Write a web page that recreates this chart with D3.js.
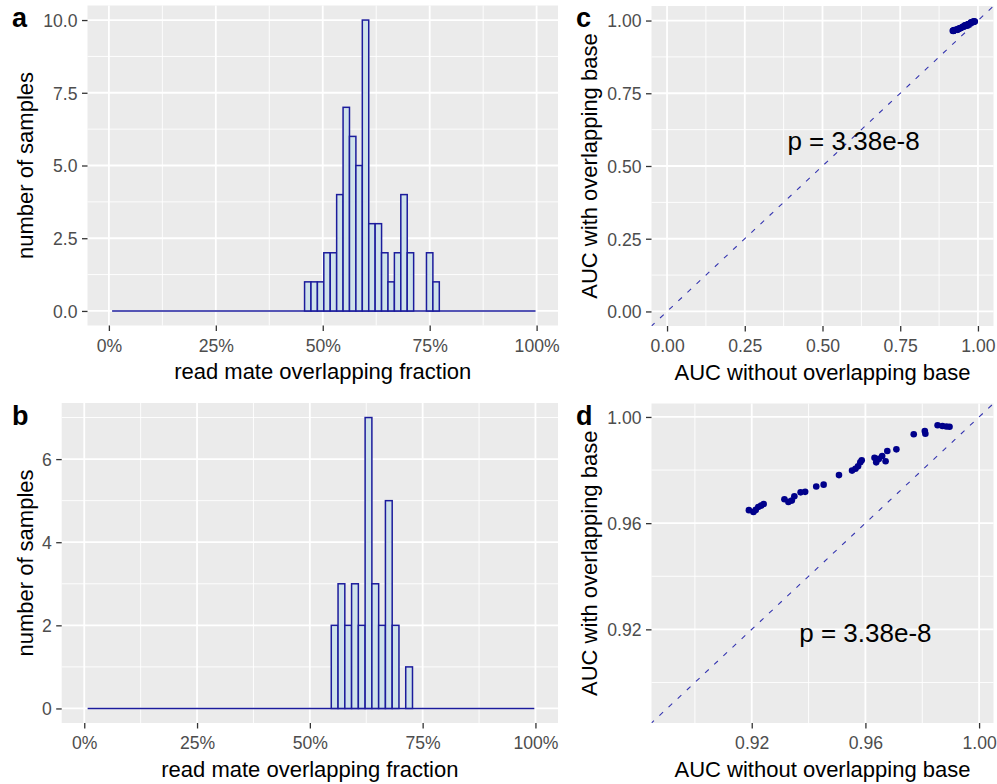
<!DOCTYPE html>
<html>
<head>
<meta charset="utf-8">
<script src="https://cdn.jsdelivr.net/npm/d3@7"></script>
<style>
  html, body { margin: 0; padding: 0; background: #ffffff; }
  text { font-family: "Liberation Sans", Arial, Helvetica, sans-serif; }
</style>
</head>
<body>
<svg id="fig" width="997" height="784"></svg>
<script>
// ---------------- data ----------------
// histogram bins of width 0.015 (edges at 0.0075 + 0.015k), empty bins span histSpan
const binWidth = 0.015;
const histSpan = [0.0075, 0.9975];
const firstEdgeA = 0.4575;
const countsA = [1, 1, 1, 2, 2, 4, 7, 6, 5, 10, 3, 3, 2, 1, 2, 4, 2, 0, 0, 2, 1];
const firstEdgeB = 0.5475;
const countsB = [2, 3, 2, 3, 2, 7, 3, 2, 5, 2, 0, 1];

// per-sample AUC without / with the overlapping base
const aucWithout = [0.9190, 0.9206, 0.9214, 0.9223, 0.9233, 0.9242, 0.9315, 0.9329, 0.9341, 0.9350,
                    0.9372, 0.9388, 0.9427, 0.9453, 0.9507, 0.9553, 0.9565, 0.9574, 0.9582, 0.9587,
                    0.9632, 0.9638, 0.9647, 0.9659, 0.9671, 0.9677, 0.9709, 0.9770, 0.9809, 0.9811,
                    0.9854, 0.9871, 0.9885, 0.9896];
const aucWith    = [0.9649, 0.9642, 0.9650, 0.9661, 0.9666, 0.9672, 0.9690, 0.9680, 0.9685, 0.9701,
                    0.9716, 0.9718, 0.9738, 0.9745, 0.9781, 0.9798, 0.9805, 0.9814, 0.9829, 0.9837,
                    0.9846, 0.9829, 0.9842, 0.9853, 0.9833, 0.9872, 0.9878, 0.9935, 0.9947, 0.9937,
                    0.9969, 0.9966, 0.9964, 0.9963];
const pLabel = "p = 3.38e-8";

// axis limits and ticks
const fracLimits = [0, 1];
const fracTicks = [0, 0.25, 0.5, 0.75, 1];
const fracMinor = [0.125, 0.375, 0.625, 0.875];
const countLimitsA = [0, 10];
const countTicksA = [0, 2.5, 5, 7.5, 10];
const countMinorA = [1.25, 3.75, 6.25, 8.75];
const countLimitsB = [0, 7];
const countTicksB = [0, 2, 4, 6];
const countMinorB = [1, 3, 5, 7];
const aucLimitsC = [0, 1];
const aucTicksC = [0, 0.25, 0.5, 0.75, 1];
const aucMinorC = [0.125, 0.375, 0.625, 0.875];
const aucLimitsD = [0.8902, 0.9996];
const aucTicksD = [0.92, 0.96, 1.00];
const aucMinorD = [0.90, 0.94, 0.98];

// ---------------- styling ----------------
const PANEL_BG = "#EBEBEB";
const TICK_TXT = "#4D4D4D";
const BAR_FILL = "#cfe2ea";
const BAR_LINE = "#1c1c9c";
const POINT = "#00008B";
const DASH = "#3434b0";

const svg = d3.select("#fig");

function expand(lim, f = 0.05) {
  const d = lim[1] - lim[0];
  return [lim[0] - f * d, lim[1] + f * d];
}

// Draws the grey panel, grid, ticks, tick labels and titles; returns scales + group
function panel(o) {
  const x = d3.scaleLinear().domain(expand(o.xlim)).range([o.left, o.right]);
  const y = d3.scaleLinear().domain(expand(o.ylim)).range([o.bottom, o.top]);
  const g = svg.append("g");
  g.append("rect").attr("x", o.left).attr("y", o.top)
    .attr("width", o.right - o.left).attr("height", o.bottom - o.top)
    .attr("fill", PANEL_BG);
  const grid = g.append("g").attr("stroke", "#ffffff").attr("fill", "none");
  o.xminor.forEach(v => grid.append("line").attr("x1", x(v)).attr("x2", x(v))
    .attr("y1", o.top).attr("y2", o.bottom).attr("stroke-width", 0.9));
  o.yminor.forEach(v => grid.append("line").attr("y1", y(v)).attr("y2", y(v))
    .attr("x1", o.left).attr("x2", o.right).attr("stroke-width", 0.9));
  o.xticks.forEach(v => grid.append("line").attr("x1", x(v)).attr("x2", x(v))
    .attr("y1", o.top).attr("y2", o.bottom).attr("stroke-width", 1.8));
  o.yticks.forEach(v => grid.append("line").attr("y1", y(v)).attr("y2", y(v))
    .attr("x1", o.left).attr("x2", o.right).attr("stroke-width", 1.8));

  // axis ticks drawn through d3 axes
  const xAxis = d3.axisBottom(x).tickValues(o.xticks).tickFormat(o.xfmt)
    .tickSizeInner(5.5).tickSizeOuter(0).tickPadding(4.5);
  const yAxis = d3.axisLeft(y).tickValues(o.yticks).tickFormat(o.yfmt)
    .tickSizeInner(5.5).tickSizeOuter(0).tickPadding(4.5);
  const gx = g.append("g").attr("transform", `translate(0,${o.bottom})`).call(xAxis);
  const gy = g.append("g").attr("transform", `translate(${o.left},0)`).call(yAxis);
  [gx, gy].forEach(a => {
    a.select(".domain").remove();
    a.selectAll(".tick line").attr("stroke", "#333333").attr("stroke-width", 1.3);
    a.selectAll(".tick text").attr("fill", TICK_TXT)
      .style("font-size", "17.6px")
      .style("font-family", '"Liberation Sans", Arial, sans-serif');
  });
  gx.selectAll(".tick text").attr("dy", null).attr("y", 26);
  gy.selectAll(".tick text").attr("dy", "0.36em");

  g.append("text").attr("x", (o.left + o.right) / 2).attr("y", o.bottom + 53.5)
    .attr("text-anchor", "middle").attr("fill", "#000").style("font-size", "22px")
    .text(o.xtitle);
  g.append("text")
    .attr("transform", `translate(${o.ytitleX},${(o.top + o.bottom) / 2}) rotate(-90)`)
    .attr("text-anchor", "middle").attr("fill", "#000").style("font-size", "22px")
    .text(o.ytitle);
  g.append("text").attr("x", o.tagX).attr("y", o.tagY)
    .attr("fill", "#000").style("font-size", "27px").style("font-weight", "bold")
    .text(o.tag);

  const clipId = "clip-" + o.tag;
  svg.append("clipPath").attr("id", clipId).append("rect")
    .attr("x", o.left).attr("y", o.top)
    .attr("width", o.right - o.left).attr("height", o.bottom - o.top);
  const plot = g.append("g").attr("clip-path", `url(#${clipId})`);
  return { x, y, plot };
}

function histogram(p, firstEdge, counts) {
  const { x, y, plot } = p;
  plot.append("line")
    .attr("x1", x(histSpan[0])).attr("x2", x(histSpan[1]))
    .attr("y1", y(0)).attr("y2", y(0))
    .attr("stroke", BAR_LINE).attr("stroke-width", 1.5);
  const bins = counts.map((c, i) => ({ x0: firstEdge + i * binWidth, x1: firstEdge + (i + 1) * binWidth, n: c }));
  plot.selectAll("rect.bar").data(bins).enter().append("rect")
    .attr("class", "bar")
    .attr("x", d => x(d.x0)).attr("width", d => x(d.x1) - x(d.x0))
    .attr("y", d => y(d.n)).attr("height", d => y(0) - y(d.n))
    .attr("fill", BAR_FILL).attr("stroke", BAR_LINE).attr("stroke-width", 1.5);
}

function scatter(p, lim, labelAt) {
  const { x, y, plot } = p;
  const ext = expand(lim);
  plot.append("line")
    .attr("x1", x(ext[0] - 1)).attr("y1", y(ext[0] - 1))
    .attr("x2", x(ext[1] + 1)).attr("y2", y(ext[1] + 1))
    .attr("stroke", DASH).attr("stroke-width", 1.1).attr("stroke-dasharray", "5 7.5");
  const pts = aucWithout.map((v, i) => [v, aucWith[i]]);
  plot.selectAll("circle.pt").data(pts).enter().append("circle")
    .attr("class", "pt")
    .attr("cx", d => x(d[0])).attr("cy", d => y(d[1])).attr("r", 3.3)
    .attr("fill", POINT);
  plot.append("text").attr("x", x(labelAt[0])).attr("y", y(labelAt[1]))
    .attr("dy", "0.5em").attr("text-anchor", "middle").attr("fill", "#000")
    .style("font-size", "26px").text(pLabel);
}

const pct = d3.format(".0%");

const pa = panel({
  left: 87.5, right: 558, top: 5.5, bottom: 325.5,
  xlim: fracLimits, ylim: countLimitsA,
  xticks: fracTicks, xminor: fracMinor, yticks: countTicksA, yminor: countMinorA,
  xfmt: pct, yfmt: d3.format(".1f"),
  xtitle: "read mate overlapping fraction", ytitle: "number of samples", ytitleX: 33,
  tag: "a", tagX: 12, tagY: 27
});
histogram(pa, firstEdgeA, countsA);

const pb = panel({
  left: 61.7, right: 558, top: 403, bottom: 723,
  xlim: fracLimits, ylim: countLimitsB,
  xticks: fracTicks, xminor: fracMinor, yticks: countTicksB, yminor: countMinorB,
  xfmt: pct, yfmt: d3.format("d"),
  xtitle: "read mate overlapping fraction", ytitle: "number of samples", ytitleX: 33,
  tag: "b", tagX: 12, tagY: 425
});
histogram(pb, firstEdgeB, countsB);

const pc = panel({
  left: 651.5, right: 993.5, top: 6, bottom: 326,
  xlim: aucLimitsC, ylim: aucLimitsC,
  xticks: aucTicksC, xminor: aucMinorC, yticks: aucTicksC, yminor: aucMinorC,
  xfmt: d3.format(".2f"), yfmt: d3.format(".2f"),
  xtitle: "AUC without overlapping base", ytitle: "AUC with overlapping base", ytitleX: 597,
  tag: "c", tagX: 576, tagY: 27
});
scatter(pc, aucLimitsC, [0.6, 0.6]);

const pd = panel({
  left: 651.5, right: 993.5, top: 403.5, bottom: 723,
  xlim: aucLimitsD, ylim: aucLimitsD,
  xticks: aucTicksD, xminor: aucMinorD, yticks: aucTicksD, yminor: aucMinorD,
  xfmt: d3.format(".2f"), yfmt: d3.format(".2f"),
  xtitle: "AUC without overlapping base", ytitle: "AUC with overlapping base", ytitleX: 597,
  tag: "d", tagX: 576, tagY: 425
});
scatter(pd, aucLimitsD, [0.96, 0.92]);
</script>
</body>
</html>
